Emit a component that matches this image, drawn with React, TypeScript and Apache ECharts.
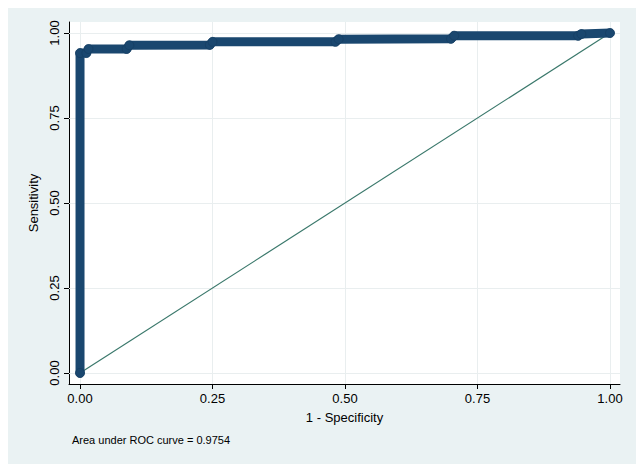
import React, { useEffect, useRef } from "react";
import * as echarts from "echarts";

// ROC curve vertices (1 - specificity, sensitivity)
const rocFpr = [0, 0, 0.012, 0.016, 0.088, 0.093, 0.245, 0.25, 0.482, 0.488, 0.7, 0.706, 0.94, 0.946, 1];
const rocTpr = [0, 0.941, 0.941, 0.953, 0.953, 0.964, 0.965, 0.974, 0.974, 0.982, 0.983, 0.992, 0.992, 0.997, 1.0];
// reference (chance) line
const refLine = [
  [0, 0],
  [1, 1],
];
const tickValues = [0, 0.25, 0.5, 0.75, 1];
const xTitle = "1 - Specificity";
const yTitle = "Sensitivity";
const note = "Area under ROC curve = 0.9754";

const FONT = "'Liberation Sans', Arial, Helvetica, sans-serif";

export default function App() {
  const ref = useRef<HTMLDivElement>(null);
  useEffect(() => {
    if (!ref.current) return;
    const chart = echarts.init(ref.current, null, { renderer: "svg" });
    const rocData = rocFpr.map((x, i) => [x, rocTpr[i]]);
    const gridColor = "#e9eeef";
    chart.setOption({
      animation: false,
      backgroundColor: "#eaf2f3",
      grid: {
        left: 61,
        top: 14,
        right: 16,
        bottom: 80,
        show: true,
        backgroundColor: "#ffffff",
        borderWidth: 0,
      },
      xAxis: {
        type: "value",
        min: -0.0208,
        max: 1.0189,
        name: xTitle,
        nameLocation: "middle",
        nameGap: 27,
        nameTextStyle: { color: "#000", fontSize: 13, fontFamily: FONT },
        axisLine: { show: true, onZero: false, lineStyle: { color: "#000", width: 1 } },
        axisTick: { show: true, length: 5, customValues: tickValues, lineStyle: { color: "#000" } },
        axisLabel: {
          customValues: tickValues,
          formatter: (v: number) => v.toFixed(2),
          color: "#000",
          fontSize: 13,
          fontFamily: FONT,
          margin: 8,
        },
        splitLine: { show: false },
      },
      yAxis: {
        type: "value",
        min: -0.0324,
        max: 1.0324,
        name: yTitle,
        nameLocation: "middle",
        nameGap: 28,
        nameTextStyle: { color: "#000", fontSize: 13, fontFamily: FONT },
        axisLine: { show: true, onZero: false, lineStyle: { color: "#000", width: 1 } },
        axisTick: { show: true, length: 5, customValues: tickValues, lineStyle: { color: "#000" } },
        axisLabel: {
          customValues: tickValues,
          formatter: (v: number) => v.toFixed(2),
          color: "#000",
          fontSize: 13,
          fontFamily: FONT,
          rotate: 90,
          margin: 8,
        },
        splitLine: { show: false },
      },
      graphic: [
        {
          type: "text",
          left: 64,
          top: 426,
          style: { text: note, fill: "#000", fontSize: 11, fontFamily: FONT },
        },
      ],
      series: [
        {
          type: "line",
          data: [],
          silent: true,
          z: 1,
          markLine: {
            silent: true,
            z: 1,
            symbol: "none",
            label: { show: false },
            lineStyle: { color: gridColor, width: 1, type: "solid" },
            emphasis: { disabled: true },
            data: [
              ...tickValues.map((v) => ({ xAxis: v })),
              ...tickValues.map((v) => ({ yAxis: v })),
            ],
          },
        },
        {
          type: "line",
          data: refLine,
          z: 10,
          showSymbol: false,
          lineStyle: { color: "#3a786b", width: 1.2 },
        },
        {
          type: "line",
          data: rocData,
          z: 11,
          showSymbol: true,
          symbol: "circle",
          symbolSize: 9,
          itemStyle: { color: "#1a476f", borderColor: "#173f63", borderWidth: 0.8 },
          lineStyle: { color: "#1a476f", width: 9, cap: "round", join: "round" },
        },
      ],
    });
    return () => chart.dispose();
  }, []);
  return <div ref={ref} style={{ width: 628, height: 456 }} />;
}
